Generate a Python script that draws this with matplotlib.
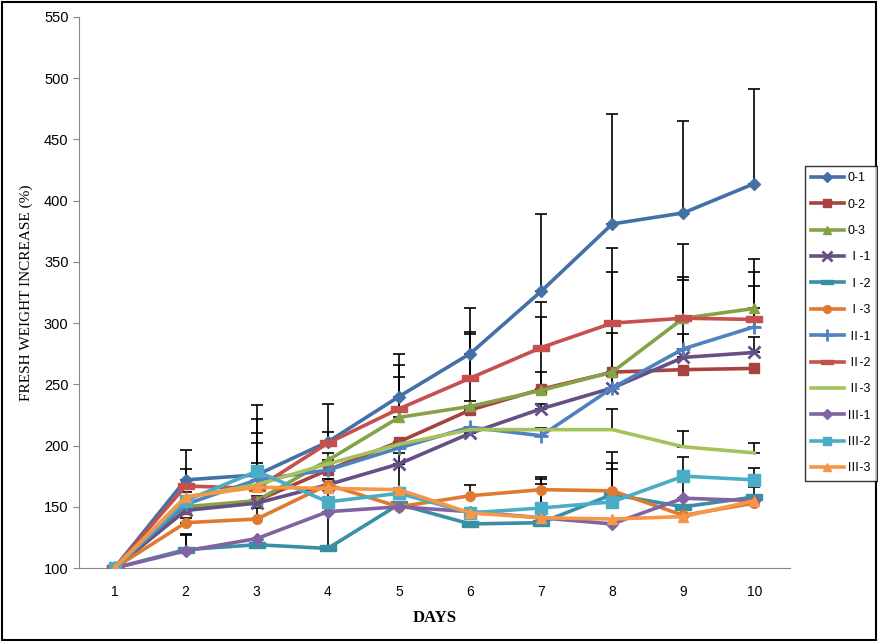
import matplotlib
matplotlib.use("Agg")
import matplotlib.pyplot as plt
import numpy as np

days = [1, 2, 3, 4, 5, 6, 7, 8, 9, 10]
labels = ["0-1", "0-2", "0-3", "Ⅰ-1", "Ⅰ-2", "Ⅰ-3",
          "Ⅱ-1", "Ⅱ-2", "Ⅱ-3", "Ⅲ-1", "Ⅲ-2", "Ⅲ-3"]

# mean fresh weight increase (%) per group
s01 = [100, 172, 176, 203, 240, 275, 326, 381, 390, 414]
s02 = [100, 148, 155, 180, 203, 229, 246, 260, 262, 263]
s03 = [100, 150, 155, 188, 223, 232, 245, 260, 304, 312]
s11 = [100, 147, 153, 168, 185, 210, 230, 247, 272, 276]
s12 = [100, 115, 119, 116, 152, 136, 137, 160, 150, 158]
s13 = [100, 137, 140, 168, 150, 159, 164, 163, 143, 153]
s21 = [100, 152, 172, 180, 198, 215, 208, 247, 279, 297]
s22 = [100, 167, 165, 202, 230, 255, 280, 300, 304, 303]
s23 = [100, 158, 168, 185, 201, 213, 213, 213, 199, 194]
s31 = [100, 114, 124, 146, 150, 146, 141, 136, 157, 155]
s32 = [100, 155, 179, 154, 161, 145, 149, 154, 175, 172]
s33 = [100, 158, 166, 165, 164, 145, 141, 140, 142, 155]

# upper error (plus only)
e01 = [0, 24, 57, 31, 35, 37, 63, 90, 75, 77]
e02 = [0, 11, 4, 0, 0, 7, 14, 0, 0, 0]
e03 = [0, 12, 0, 6, 33, 59, 60, 82, 61, 40]
e11 = [0, 0, 2, 5, 0, 0, 4, 10, 19, 13]
e12 = [0, 12, 0, 57, 0, 0, 0, 21, 0, 8]
e13 = [0, 4, 9, 0, 0, 9, 10, 32, 0, 0]
e21 = [0, 0, 38, 0, 0, 0, 6, 45, 56, 33]
e22 = [0, 14, 21, 9, 36, 38, 37, 61, 34, 39]
e23 = [0, 0, 0, 0, 0, 0, 0, 17, 13, 8]
e31 = [0, 14, 0, 0, 0, 0, 0, 0, 13, 0]
e32 = [0, 0, 43, 0, 0, 0, 24, 32, 16, 10]
e33 = [0, 0, 36, 0, 30, 0, 28, 0, 0, 0]

series = [s01, s02, s03, s11, s12, s13, s21, s22, s23, s31, s32, s33]
errors = [e01, e02, e03, e11, e12, e13, e21, e22, e23, e31, e32, e33]
colors = ["#4470A8", "#A8423F", "#86A247", "#654F85", "#3A8FA6", "#E07A30",
          "#4F82BE", "#C5504D", "#A5C25B", "#8064A2", "#4BACC6", "#F79646"]

# Excel-style "dash" marker: a short flat bar
dash = [(-1, -0.4), (1, -0.4), (1, 0.4), (-1, 0.4), (-1, -0.4)]
markers = ["D", "s", "^", "x", dash, "o", "+", dash, None, "D", "s", "^"]
msizes = [6, 7, 7, 9, 11, 7, 10, 11, 0, 6, 8, 7]

plt.rcParams["font.family"] = ["Liberation Sans", "Noto Sans CJK SC"]

fig = plt.figure(figsize=(8.79, 6.41), dpi=100)
ax = fig.add_axes([79 / 879, 73 / 641, 711 / 879, 551 / 641])

for vals, err, c, m, ms, lab in zip(series, errors, colors, markers, msizes, labels):
    ax.errorbar(days, vals, yerr=[np.zeros(len(err)), err], fmt="none",
                ecolor="black", elinewidth=1.2, capsize=4, capthick=1.2, zorder=2)
    ax.plot(days, vals, color=c, lw=2.6, marker=m, ms=ms,
            mew=2 if isinstance(m, str) and m in ("x", "+") else 1,
            mec=c, mfc=c, label=lab, zorder=3)

ax.set_xlim(0.5, 10.5)
ax.set_ylim(100, 550)
ax.set_xticks(days)
ax.set_yticks(np.arange(100, 551, 50))
ax.tick_params(axis="x", length=0, pad=12, labelsize=10)
ax.tick_params(axis="y", length=4, direction="out", color="#888888", labelsize=10.5)
for side in ("top", "right"):
    ax.spines[side].set_visible(False)
for side in ("left", "bottom"):
    ax.spines[side].set_color("#888888")

ax.set_ylabel("FRESH WEIGHT INCREASE (%)", family="Liberation Serif", fontsize=11, labelpad=8)
ax.set_xlabel("DAYS", family="Liberation Serif", fontsize=12, fontweight="bold", labelpad=8)

fig.legend(loc="upper left", bbox_to_anchor=(805 / 879, 1 - 166 / 641),
           frameon=True, fancybox=False, edgecolor="black",
           handlelength=2.6, labelspacing=1.15, borderpad=0.5, handletextpad=0.3,
           borderaxespad=0, markerscale=0.8,
           prop={"family": ["Liberation Sans", "Noto Sans CJK SC"], "size": 9})

border = plt.Rectangle((0.002, 0.002), 0.995, 0.995, transform=fig.transFigure,
                       fill=False, edgecolor="black", lw=1.5)
fig.patches.append(border)

fig.savefig("out.png", dpi=100)
